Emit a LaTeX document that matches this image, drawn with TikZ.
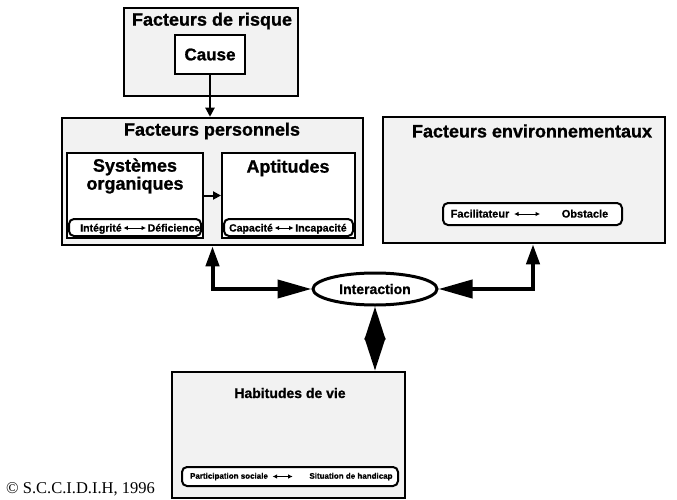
\documentclass[tikz,border=0pt]{standalone}
\usepackage{fontspec}
\setmainfont{Liberation Sans}
\newfontfamily\serifcr{Liberation Serif}
\newfontfamily\heavy[FakeBold=1]{Liberation Sans Bold}
\newfontfamily\heavysmall[FakeBold=0.6]{Liberation Sans Bold}
\usetikzlibrary{arrows.meta,shapes.geometric}
\begin{document}
\begin{tikzpicture}[x=1pt,y=-1pt,
  outerbox/.style={draw, line width=2.5pt, fill=gray!10, inner sep=0pt},
  innerbox/.style={draw, line width=2pt, fill=white, inner sep=0pt},
  barbox/.style={draw, line width=2pt, rounded corners=5pt, fill=white, inner sep=0pt},
  ttl/.style={font=\heavy\fontsize{18}{18}\selectfont, inner sep=0pt, align=center},
  subttl/.style={font=\heavy\fontsize{14}{16}\selectfont, inner sep=0pt},
  bartxt/.style={font=\heavysmall\fontsize{10.5}{12}\selectfont, inner sep=1.5pt, text height=7.6pt, text depth=0.5pt},
  smalltxt/.style={font=\heavysmall\fontsize{8}{10}\selectfont, inner sep=1.5pt, text height=6pt, text depth=1.6pt},
  minarrow/.style={line width=1pt, {Latex[length=4.5pt,width=4.5pt]}-{Latex[length=4.5pt,width=4.5pt]}},
  conn/.style={line width=4pt, line join=miter, {Triangle[length=20pt,width=13pt]}-{Triangle[length=34pt,width=18pt]}},
  vconn/.style={line width=4pt, {Triangle[length=33pt,width=20pt]}-{Triangle[length=33pt,width=20pt]}},
  thinarrow/.style={line width=2pt, -{Triangle[length=9pt,width=9pt]}}
]
\useasboundingbox (0,0) rectangle (677,500);

% Facteurs de risque
\node[outerbox, minimum width=174pt, minimum height=88pt] (risk) at (211,52) {};
\node[ttl] (riskT) at (212,21) {Facteurs de risque};
\node[innerbox, minimum width=70pt, minimum height=39pt, font=\heavy\fontsize{17}{18}\selectfont] (cause) at (210,54.5) {Cause};

% Facteurs personnels
\node[outerbox, minimum width=301pt, minimum height=127pt] (pers) at (212.5,181.5) {};
\node[ttl] (persT) at (212,131) {Facteurs personnels};
\node[innerbox, minimum width=136pt, minimum height=85pt] (sys) at (135,195.5) {};
\node[ttl] (sysT) at (135,176) {Systèmes\\organiques};
\node[barbox, minimum width=132pt, minimum height=17pt] (sysbar) at (135,227.5) {};
\node[bartxt] (integ) at (101,228) {Intégrité};
\node[bartxt] (defic) at (174,228) {Déficience};
\draw[minarrow] (integ) -- (defic);

\node[innerbox, minimum width=133pt, minimum height=85pt] (apt) at (288.5,195.5) {};
\node[ttl] (aptT) at (288,168) {Aptitudes};
\node[barbox, minimum width=129pt, minimum height=17pt] (aptbar) at (288.5,227.5) {};
\node[bartxt] (capa) at (251,228) {Capacité};
\node[bartxt] (incapa) at (321,228) {Incapacité};
\draw[minarrow] (capa) -- (incapa);

\draw[line width=2pt, -{Triangle[length=8pt,width=8pt]}] (sys.east) -- (apt.west);

% Facteurs environnementaux
\node[outerbox, minimum width=282pt, minimum height=126pt] (env) at (524,180) {};
\node[ttl] (envT) at (532,131) {Facteurs environnementaux};
\node[barbox, minimum width=179pt, minimum height=22pt] (envbar) at (532.5,214) {};
\node[bartxt, font=\heavysmall\fontsize{11}{12}\selectfont] (facil) at (480,214) {Facilitateur};
\node[bartxt, font=\heavysmall\fontsize{11}{12}\selectfont] (obst) at (585,214) {Obstacle};
\draw[minarrow] ([xshift=3pt]facil.east) -- ([xshift=-20pt]obst.west);

% Interaction
\node[ellipse, draw, line width=3pt, fill=white, minimum width=124pt, minimum height=32pt, inner sep=0pt, font=\heavy\fontsize{14}{16}\selectfont] (inter) at (375,289) {Interaction};

% Habitudes de vie
\node[outerbox, minimum width=233pt, minimum height=126pt] (hab) at (288.5,435) {};
\node[subttl] (habT) at (290,393) {Habitudes de vie};
\node[barbox, minimum width=216pt, minimum height=19pt] (habbar) at (290,476.5) {};
\node[smalltxt] (partic) at (229,476.5) {Participation sociale};
\node[smalltxt] (situ) at (351,476.5) {Situation de handicap};
\draw[minarrow] ([xshift=3pt]partic.east) -- ([xshift=-15pt]situ.west);

% connectors
\draw[thinarrow] (cause.south) -- (cause.south |- pers.north);
\draw[conn] (pers.south) |- (inter.west);
\draw[conn] ([xshift=9pt]env.south) |- (inter.east);
\draw[vconn] (inter.south) -- (inter.south |- hab.north);

% copyright
\node[font=\serifcr\fontsize{16.5}{18}\selectfont, anchor=west, inner sep=0pt] (copy) at (6,489) {© S.C.C.I.D.I.H, 1996};
\end{tikzpicture}
\end{document}
